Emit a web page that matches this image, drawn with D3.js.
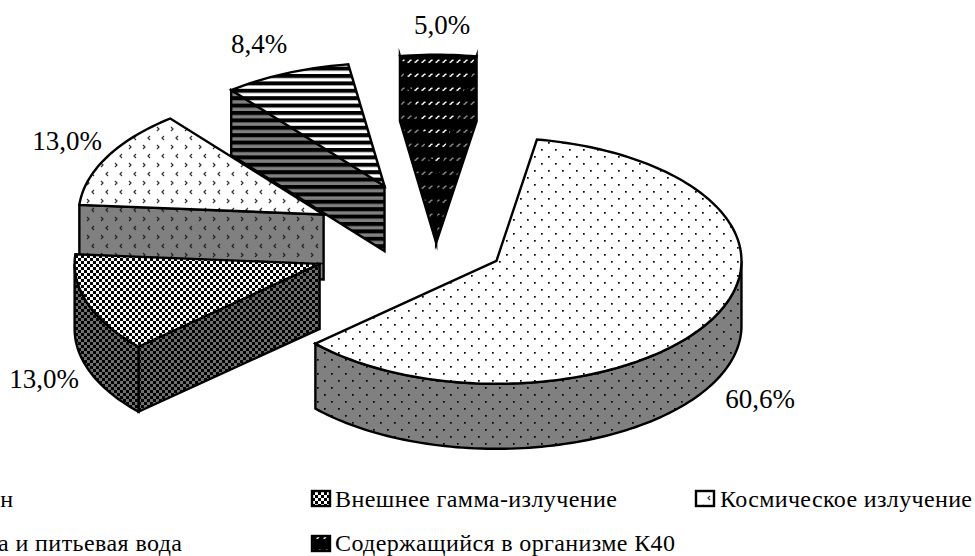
<!DOCTYPE html>
<html>
<head>
<meta charset="utf-8">
<script src="https://cdn.jsdelivr.net/npm/d3@7"></script>
<style>
  html, body { margin: 0; background: #fff; overflow: hidden; }
  text { font-family: "Liberation Serif", serif; fill: #000; }
</style>
</head>
<body>
<svg id="chart" width="975" height="556"></svg>
<script>
// data
const categories = ["Радон", "Внешнее гамма-излучение", "Космическое излучение", "Пища и питьевая вода", "Содержащийся в организме К40"];
const shares = [60.6, 13.0, 13.0, 8.4, 5.0];
const shareLabels = ["60,6%", "13,0%", "13,0%", "8,4%", "5,0%"];

// layout of the tilted pie
const explode = [70, 122, 126, 126, 132];
const labelPos = [[760, 408], [44, 388], [67, 150], [259, 53], [442, 34]];
const legendPos = [[-49, 507, 62], [335, 507, 282], [720, 507, 252], [-52, 551, 234], [335, 551, 340]];
const legendSwatch = [[-70, 491], [312, 491], [696, 491], [-70, 536], [312, 536]];
const drawOrder = [3, 4, 2, 1, 0];
const cx = 435, cy = 244, rx = 245, ry = 123, depth = 65;

const svg = d3.select("#chart");
const defs = svg.append("defs");

function makePattern(id, w, h, bg, draw) {
    const p = defs.append("pattern").attr("id", id)
        .attr("patternUnits", "userSpaceOnUse").attr("width", w).attr("height", h);
    p.append("rect").attr("width", w).attr("height", h).attr("fill", bg);
    draw(p);
}
const dots = ink => p => {
    [[2, 2], [9, 9]].forEach(d => p.append("rect").attr("x", d[0]).attr("y", d[1]).attr("width", 1.7).attr("height", 1.7).attr("fill", ink));
};
const arrows = ink => p => {
    [[3, 3, 1], [10, 12, -1]].forEach(d => p.append("path")
        .attr("d", `M${d[0]},${d[1] - 2}L${d[0] + 2 * d[2]},${d[1]}L${d[0]},${d[1] + 2}`)
        .attr("fill", "none").attr("stroke", ink).attr("stroke-width", 1.2));
};
const checker = ink => p => {
    [[0, 0], [3, 3]].forEach(d => p.append("rect").attr("x", d[0]).attr("y", d[1]).attr("width", 3).attr("height", 3).attr("fill", ink));
};
const stripes = ink => p => {
    p.append("rect").attr("y", 0).attr("width", 8).attr("height", 4).attr("fill", ink);
};
const dashes = ink => p => {
    p.append("path").attr("d", "M1.5,6.5L3,6L4,4.5L5.5,4")
        .attr("fill", "none").attr("stroke", ink).attr("stroke-width", 1.4);
};

makePattern("top0", 14, 14, "#fff", dots("#000"));
makePattern("wall0", 14, 14, "#808080", dots("#000"));
makePattern("top1", 6, 6, "#fff", checker("#000"));
makePattern("wall1", 6, 6, "#707070", checker("#000"));
makePattern("top2", 14, 18, "#fff", arrows("#333"));
makePattern("wall2", 14, 18, "#808080", arrows("#222"));
makePattern("top3", 8, 7.4, "#fff", stripes("#000"));
makePattern("wall3", 8, 7.4, "#808080", stripes("#000"));
makePattern("top4", 7, 14, "#000", dashes("#fff"));
makePattern("wall4", 7, 14, "#000", dashes("#888"));

const rad = 180 / Math.PI;
const pie = d3.pie().sort(null).startAngle(9.5 / rad).endAngle((360 + 9.5) / rad);
const arcs = pie(shares);

const line = d3.line();
const px = (c, a) => c[0] + rx * Math.sin(a);
const py = (c, a) => c[1] - ry * Math.cos(a);

function arcPoints(c, a0, a1, dy) {
    const n = Math.max(2, Math.ceil((a1 - a0) * 40));
    return d3.range(n + 1).map(i => {
        const a = a0 + (a1 - a0) * i / n;
        return [px(c, a), py(c, a) + dy];
    });
}

drawOrder.forEach(i => {
    const d = arcs[i];
    const mid = (d.startAngle + d.endAngle) / 2;
    const c = [cx + explode[i] * Math.sin(mid), cy - explode[i] * Math.cos(mid) * ry / rx];
    const g = svg.append("g").attr("class", "slice");
    const face = (pts, fill) => g.append("path")
        .attr("d", line(pts) + "Z")
        .attr("fill", fill).attr("stroke", "#000").attr("stroke-width", 2.4)
        .attr("stroke-linejoin", "miter").attr("stroke-miterlimit", 8);

    // radial walls that look at the viewer
    const edgeWall = a => face([c, [px(c, a), py(c, a)], [px(c, a), py(c, a) + depth], [c[0], c[1] + depth]], `url(#wall${i})`);
    if (Math.sin(d.startAngle) < 0) edgeWall(d.startAngle);
    if (Math.sin(d.endAngle) > 0) edgeWall(d.endAngle);

    // outer wall, only the front half of the rim
    const lo = Math.max(d.startAngle, Math.PI / 2), hi = Math.min(d.endAngle, 1.5 * Math.PI);
    if (lo < hi) {
        face(arcPoints(c, lo, hi, 0).concat(arcPoints(c, lo, hi, depth).reverse()), `url(#wall${i})`);
    }

    // top face
    face([c].concat(arcPoints(c, d.startAngle, d.endAngle, 0)), `url(#top${i})`);
});

// value labels
svg.selectAll(".share").data(shareLabels).enter().append("text")
    .attr("class", "share")
    .attr("x", (d, i) => labelPos[i][0]).attr("y", (d, i) => labelPos[i][1])
    .attr("text-anchor", "middle").style("font-size", "27px").text(d => d);

// legend, the first column runs off the left edge like in the scan
svg.selectAll(".swatch").data(categories).enter().append("rect")
    .attr("class", "swatch")
    .attr("x", (d, i) => legendSwatch[i][0]).attr("y", (d, i) => legendSwatch[i][1])
    .attr("width", 18).attr("height", 15)
    .attr("fill", (d, i) => `url(#top${i})`).attr("stroke", "#000").attr("stroke-width", 2.4);
svg.selectAll(".entry").data(categories).enter().append("text")
    .attr("class", "entry")
    .attr("x", (d, i) => legendPos[i][0]).attr("y", (d, i) => legendPos[i][1])
    .attr("textLength", (d, i) => legendPos[i][2]).attr("lengthAdjust", "spacing")
    .style("font-size", "24px").text(d => d);
</script>
</body>
</html>
